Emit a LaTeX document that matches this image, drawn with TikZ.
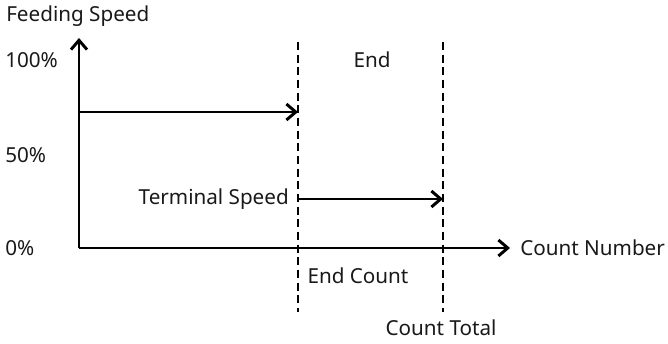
\documentclass[tikz,border=0pt]{standalone}
\usepackage{fontspec}
\setmainfont{Noto Sans}
\usetikzlibrary{arrows.meta}

\begin{document}
\begin{tikzpicture}[x=0.75pt, y=0.75pt,
        lbl/.style={font=\fontsize{15.5pt}{18pt}\selectfont, inner sep=0pt, text=black!90},
        ax/.style={line width=2.2pt, -{Straight Barb[length=7pt, width=12pt, line width=2.2pt]}},
        sep/.style={line width=2.2pt, dash pattern=on 6pt off 3.5pt}]
      \useasboundingbox (0,0) rectangle (668,343);
      % axes
      \coordinate (o) at (79,95);
      \coordinate (ytop) at (79,305);
      \coordinate (xend) at (510,95);
      \draw[ax] (o) -- (ytop);
      \draw[ax] (o) -- (xend);
      \node[lbl, anchor=west] (ylab) at (6,327) {Feeding Speed};
      \node[lbl, anchor=west] (xlab) at (520,95) {Count Number};
      \node[lbl, anchor=west] (p100) at (5,283) {100\%};
      \node[lbl, anchor=west] (p50) at (5,188) {50\%};
      \node[lbl, anchor=west] (p0) at (5,95) {0\%};
      % dashed bounds
      \coordinate (ectop) at (298,301); \coordinate (ecbot) at (298,31);
      \coordinate (cttop) at (443,301); \coordinate (ctbot) at (443,31);
      \draw[sep] (ectop) -- (ecbot);
      \draw[sep] (cttop) -- (ctbot);
      \node[lbl] (endlab) at (372,283) {End};
      \node[lbl] (eclab) at (358,67) {End Count};
      \node[lbl] (ctlab) at (441,15) {Count Total};
      % speeds
      \coordinate (s1a) at (79,231); \coordinate (s1b) at (298,231);
      \draw[ax] (s1a) -- (s1b);
      \node[lbl, anchor=east] (tslab) at (289,144) {Terminal Speed};
      \coordinate (s2a) at (298,144); \coordinate (s2b) at (443,144);
      \draw[ax] (s2a) -- (s2b);
      \end{tikzpicture}
\end{document}
